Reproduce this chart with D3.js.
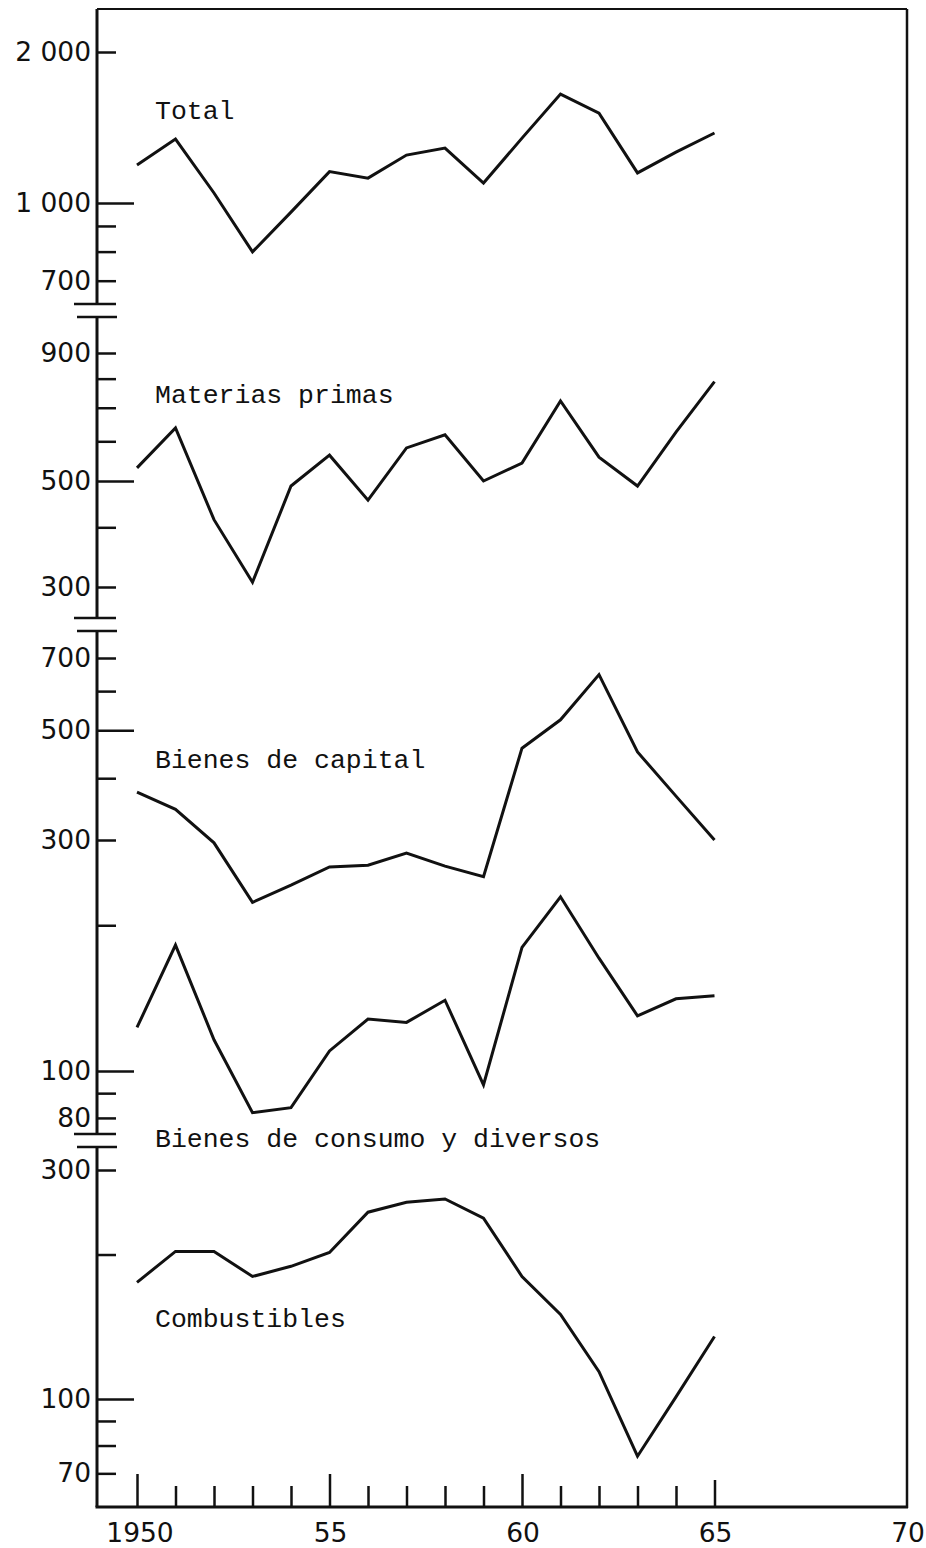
<!DOCTYPE html>
<html><head><meta charset="utf-8">
<script src="https://cdn.jsdelivr.net/npm/d3@7"></script>
<style>body{margin:0;background:#fff}svg{display:block}</style>
</head><body><svg id="c" width="926" height="1548"></svg>
<script>
// ---------------- data ----------------
const years = [1950,1951,1952,1953,1954,1955,1956,1957,1958,1959,1960,1961,1962,1963,1964,1965];
const total        = [1190,1341,1047,799,959,1155,1121,1246,1287,1096,1347,1649,1511,1148,1263,1379];
const materias     = [531,638,415,307,488,563,456,582,618,500,543,722,558,488,626,789];
const capital      = [375,346,296,223,242,264,266,282,265,252,460,525,648,452,368,300];
const consumo      = [123,182,116,82,84,110,128,126,140,93.6,180,229,171,130,141,143];
const combustibles = [175,203,203,180,189,202,245,257,261,238,180,150,114,76,101,135];

const seriesNames = ["Total","Materias primas","Bienes de capital","Bienes de consumo y diversos","Combustibles"];

const xTickYears  = [1950,1951,1952,1953,1954,1955,1956,1957,1958,1959,1960,1961,1962,1963,1964,1965];
const xLabelYears = [1950,1955,1960,1965,1970];
const xLabels     = ["1950","55","60","65","70"];

const ticksTotal   = [2000,1000,900,800,700];
const labelsTotal  = ["2 000","1 000","","","700"];
const ticksMat     = [900,800,700,600,500,400,300];
const labelsMat    = ["900","","","","500","","300"];
const ticksCap     = [700,600,500,400,300,200,100,90,80];
const labelsCap    = ["700","","500","","300","","100","","80"];
const ticksComb    = [300,200,100,90,80,70];
const labelsComb   = ["300","","100","","","70"];
const longTicks    = [[1000],[500],[500,100],[100]];

// ---------------- layout ----------------
const svg = d3.select("#c");
const axisX = 97, rightX = 907, topY = 9, baseY = 1507;
const x = d3.scaleLinear().domain([1950,1970]).range([137,907]);

const panels = [
  {scale: d3.scaleLog().domain([2000,1000]).range([52,203]), ticks: ticksTotal, labels: labelsTotal, long: longTicks[0], seg:[topY,304]},
  {scale: d3.scaleLog().domain([900,500,300]).range([353,481,587]), ticks: ticksMat, labels: labelsMat, long: longTicks[1], seg:[317,618]},
  {scale: d3.scaleLog().domain([700,300,100]).range([658,840,1071]), ticks: ticksCap, labels: labelsCap, long: longTicks[2], seg:[631,1134]},
  {scale: d3.scaleLog().domain([300,100]).range([1170,1399]), ticks: ticksComb, labels: labelsComb, long: longTicks[3], seg:[1147,baseY]}
];

const series = [
  {name: seriesNames[0], values: total, panel: 0, labelY: 119},
  {name: seriesNames[1], values: materias, panel: 1, labelY: 403},
  {name: seriesNames[2], values: capital, panel: 2, labelY: 768},
  {name: seriesNames[3], values: consumo, panel: 2, labelY: 1147},
  {name: seriesNames[4], values: combustibles, panel: 3, labelY: 1327}
];

const ink = "#111";

// frame: top, right, bottom
svg.append("line").attr("x1",axisX).attr("x2",rightX).attr("y1",topY).attr("y2",topY)
  .attr("stroke",ink).attr("stroke-width",2);
svg.append("line").attr("x1",rightX).attr("x2",rightX).attr("y1",topY).attr("y2",baseY+1)
  .attr("stroke",ink).attr("stroke-width",2.5);
svg.append("line").attr("x1",axisX-1.5).attr("x2",rightX+1).attr("y1",baseY).attr("y2",baseY)
  .attr("stroke",ink).attr("stroke-width",3);

// left axis segments with break marks
panels.forEach((p,i) => {
  svg.append("line").attr("x1",axisX).attr("x2",axisX).attr("y1",p.seg[0]).attr("y2",p.seg[1])
    .attr("stroke",ink).attr("stroke-width",3);
  if (i > 0) {
    svg.append("line").attr("x1",77).attr("x2",117).attr("y1",p.seg[0]).attr("y2",p.seg[0])
      .attr("stroke",ink).attr("stroke-width",2.5);
  }
  if (i < panels.length - 1) {
    svg.append("line").attr("x1",74).attr("x2",116).attr("y1",p.seg[1]).attr("y2",p.seg[1])
      .attr("stroke",ink).attr("stroke-width",2.5);
  }
  const ax = d3.axisLeft(p.scale)
    .tickValues(p.ticks)
    .tickSize(-19)
    .tickPadding(6)
    .tickFormat((d) => p.labels[p.ticks.indexOf(d)]);
  const g = svg.append("g").attr("transform",`translate(${axisX},0)`).call(ax);
  g.select(".domain").remove();
  g.selectAll(".tick line").attr("stroke",ink).attr("stroke-width",2.5)
    .attr("x2", d => p.long.includes(d) ? 37 : 19);
  g.selectAll(".tick text").attr("fill",ink)
    .style("font-family","'DejaVu Sans', sans-serif").style("font-size","26.5px");
});

// x axis ticks (upwards)
const xa = d3.axisBottom(x).tickValues(xTickYears).tickSize(-22).tickFormat("");
const gx = svg.append("g").attr("transform",`translate(0,${baseY})`).call(xa);
gx.select(".domain").remove();
gx.selectAll(".tick line").attr("stroke",ink).attr("stroke-width",2.5)
  .attr("y2", d => (d === 1950 || d === 1955 || d === 1960) ? -33 : (d === 1965 ? -27 : -21));

// x labels
svg.append("g").selectAll("text").data(xLabelYears).join("text")
  .attr("x", d => x(d) + (d === 1950 ? 3 : 1))
  .attr("y", 1542)
  .attr("text-anchor","middle")
  .attr("fill",ink)
  .style("font-family","'DejaVu Sans', sans-serif").style("font-size","26.5px")
  .text((d,i) => xLabels[i]);

// series lines
const line = (sc) => d3.line().x((d,i) => x(years[i])).y(d => sc(d)).curve(d3.curveLinear);
series.forEach(s => {
  const sc = panels[s.panel].scale;
  svg.append("path").datum(s.values)
    .attr("d", line(sc))
    .attr("fill","none").attr("stroke",ink).attr("stroke-width",3)
    .attr("stroke-linejoin","miter");
  svg.append("text").attr("x",155).attr("y",s.labelY)
    .attr("fill",ink)
    .style("font-family","'Liberation Mono', monospace").style("font-size","26.5px")
    .text(s.name);
});
</script>
</body></html>
